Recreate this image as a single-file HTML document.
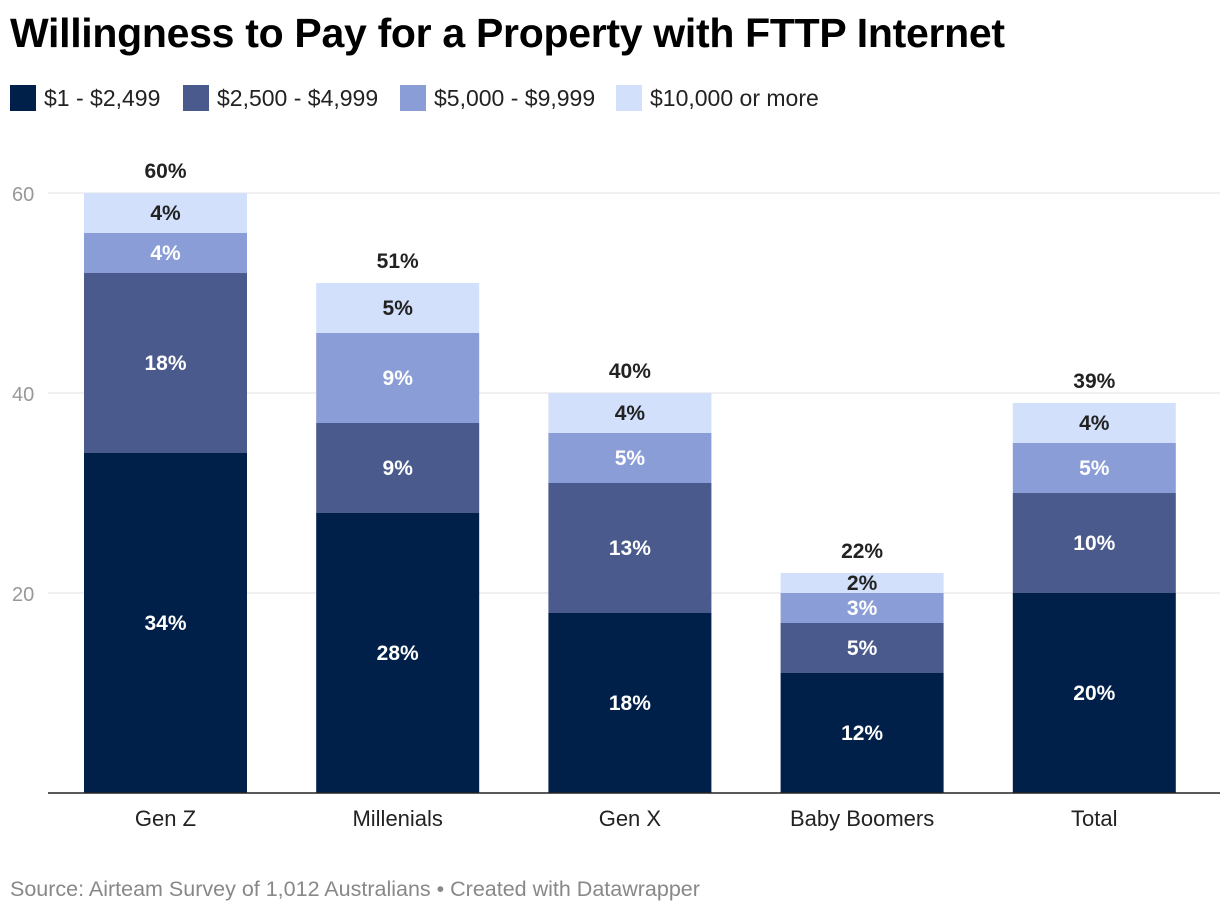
<!DOCTYPE html>
<html><head><meta charset="utf-8"><style>
body{margin:0;width:1220px;height:914px;background:#fff;font-family:"Liberation Sans",Arial,sans-serif;overflow:hidden;position:relative}
#title{position:absolute;left:10px;top:10px;font-size:41px;font-weight:bold;color:#000;letter-spacing:-0.3px;white-space:nowrap}
.leg{position:absolute;top:84px;height:28px;display:flex;align-items:center;font-size:23px;color:#222;white-space:nowrap}
.sw{width:26px;height:26px;margin-right:8px}
#src{position:absolute;left:10px;top:877px;font-size:21.5px;color:#888;white-space:nowrap}
</style></head><body>
<div id="title">Willingness to Pay for a Property with FTTP Internet</div>
<div class="leg" style="left:10px"><div class="sw" style="background:#012049"></div>$1 - $2,499</div>
<div class="leg" style="left:183px"><div class="sw" style="background:#4a5a8c"></div>$2,500 - $4,999</div>
<div class="leg" style="left:400px"><div class="sw" style="background:#8a9dd6"></div>$5,000 - $9,999</div>
<div class="leg" style="left:616px"><div class="sw" style="background:#d2e0fc"></div>$10,000 or more</div>
<svg id="chart" width="1220" height="914" style="position:absolute;left:0;top:0"></svg>
<div id="src">Source: Airteam Survey of 1,012 Australians • Created with Datawrapper</div>
<script>
const categories=["Gen Z","Millenials","Gen X","Baby Boomers","Total"];
const s1=[34,28,18,12,20];
const s2=[18,9,13,5,10];
const s3=[4,9,5,3,5];
const s4=[4,5,4,2,4];
const totals=[60,51,40,22,39];
const yTicks=[20,40,60];
const series=[s1,s2,s3,s4];
const colors=["#012049","#4a5a8c","#8a9dd6","#d2e0fc"];
const textCol=["#fff","#fff","#fff","#222"];
const NS="http://www.w3.org/2000/svg";
const svg=document.getElementById('chart');
const y=v=>793-v*10;
const x=i=>84+i*232.2;
const bw=163;
function el(t,a){const e=document.createElementNS(NS,t);for(const k in a)e.setAttribute(k,a[k]);svg.appendChild(e);return e;}
yTicks.forEach(t=>{
 const g=el('line',{x1:48,x2:1220,y1:y(t),y2:y(t),stroke:'#e2e2e2','stroke-width':1});
 
 
 const l=el('text',{x:12,y:y(t)+8,'font-size':20,fill:'#999'});l.textContent=t;
 
 
});
categories.forEach((c,i)=>{
 let acc=0;
 series.forEach((s,k)=>{
  const v=s[i];
  const r=el('rect',{x:x(i),y:y(acc+v),width:bw,height:v*10,fill:colors[k]});
  
  
  const t=el('text',{x:x(i)+bw/2,y:y(acc+v/2)+7,'font-size':21,'font-weight':'bold',fill:textCol[k],'text-anchor':'middle'});
  t.textContent=v+'%';
  
  
  acc+=v;
 });
 const tt=el('text',{x:x(i)+bw/2,y:y(totals[i])-15,'font-size':21,'font-weight':'bold',fill:'#222','text-anchor':'middle'});
 tt.textContent=totals[i]+'%';
 
 
 const cl=el('text',{x:x(i)+bw/2,y:826,'font-size':22,fill:'#222','text-anchor':'middle'});
 cl.textContent=c;
 
 
});
const b=el('line',{x1:48,x2:1220,y1:793,y2:793,stroke:'#222','stroke-width':1.5});


</script>
</body></html>
